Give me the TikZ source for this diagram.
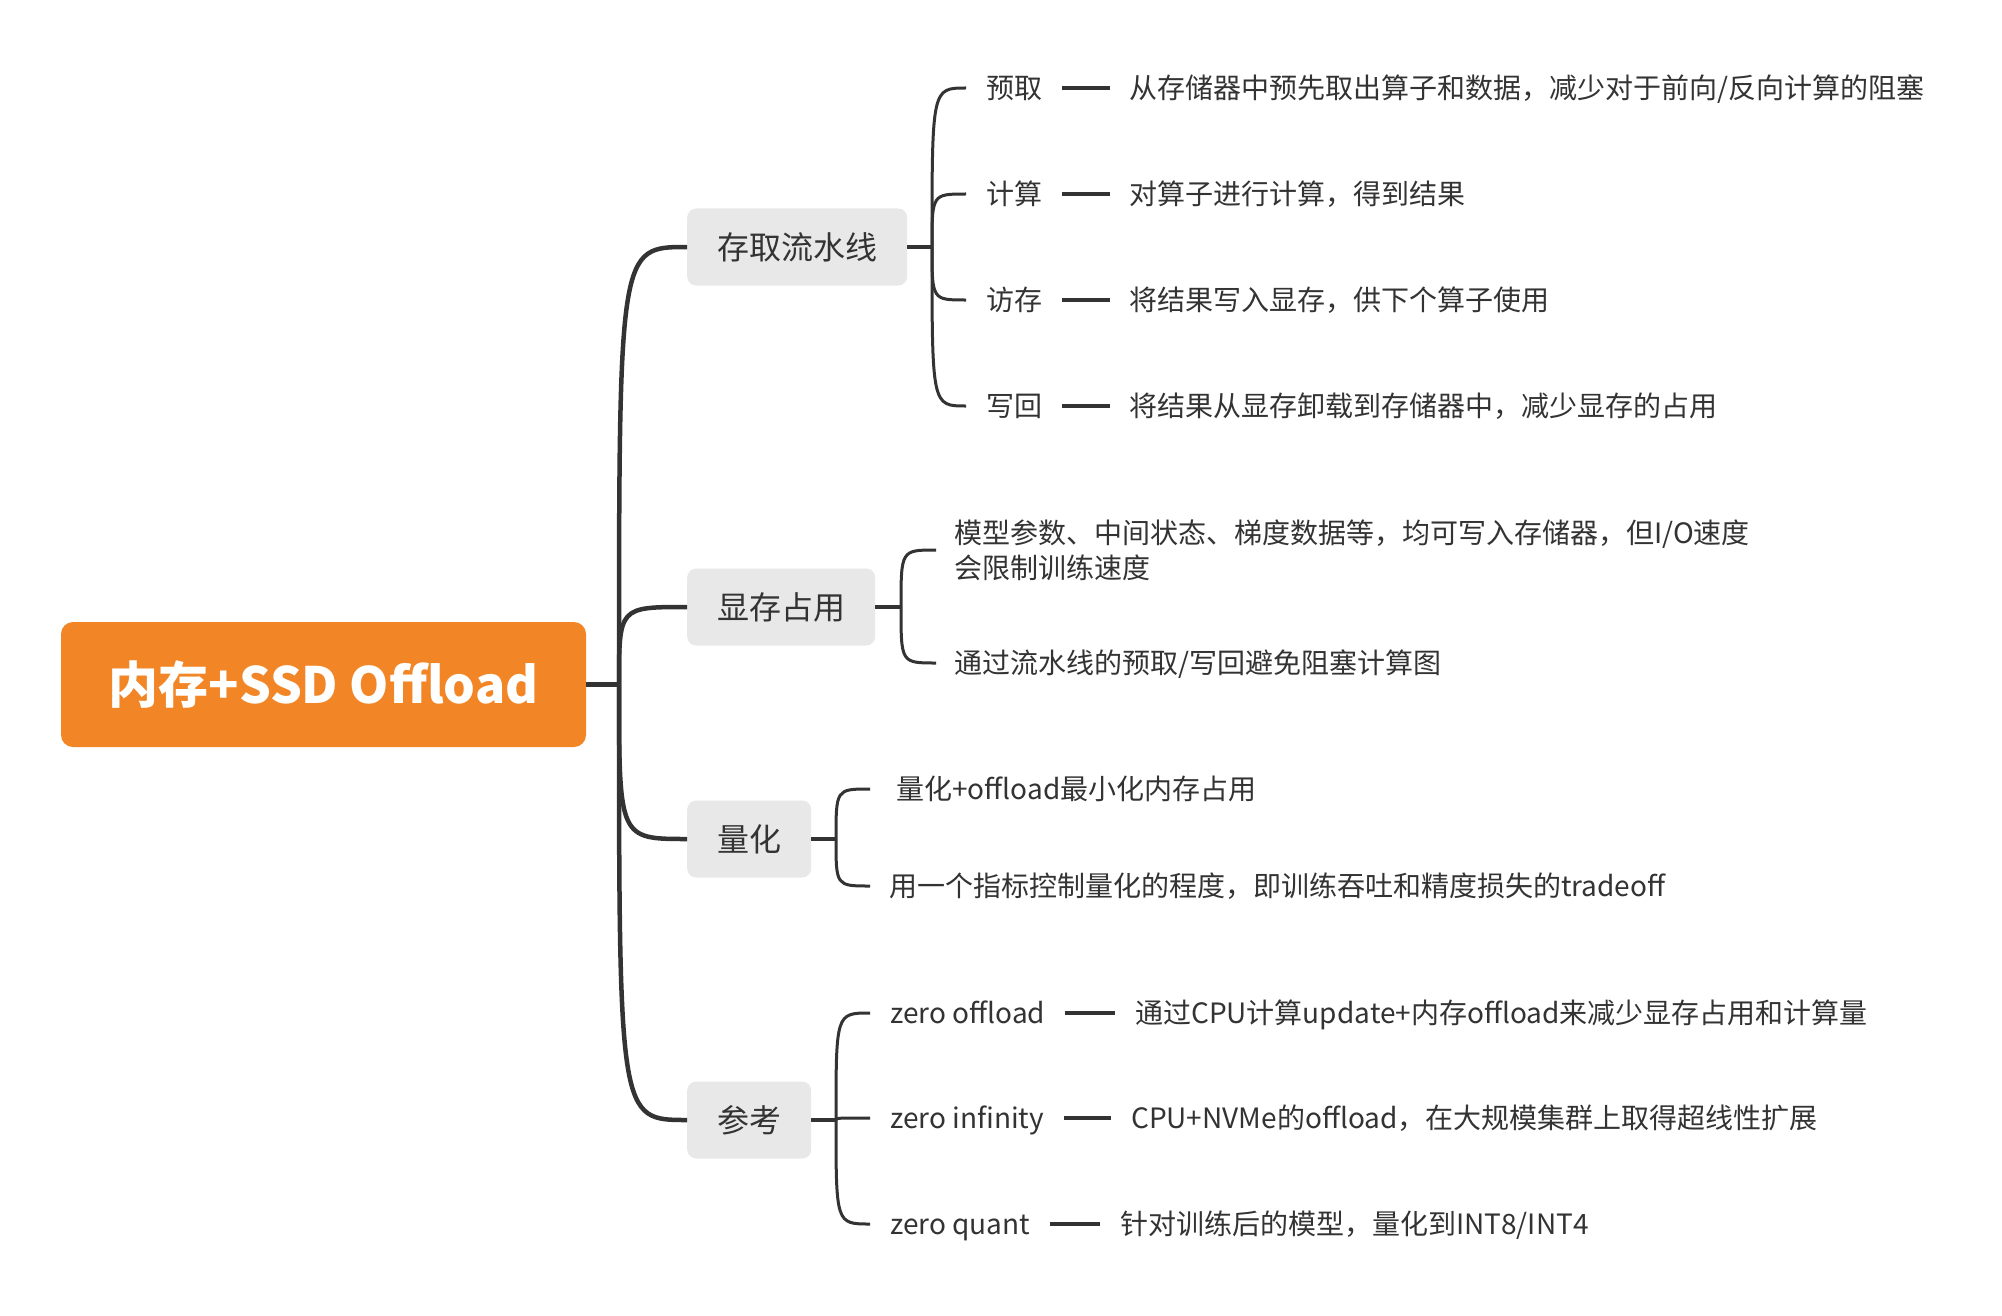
\documentclass[tikz,border=0pt]{standalone}
\usepackage{fontspec}
\setmainfont{Noto Sans CJK SC}
\usetikzlibrary{positioning}
\definecolor{ink}{HTML}{333333}
\definecolor{rootc}{HTML}{F28627}
\definecolor{boxc}{HTML}{E8E8E8}
\begin{document}
\begin{tikzpicture}[x=1pt,y=-1pt,
  rootbox/.style={fill=rootc, rounded corners=12pt, text=white, font=\fontsize{50}{58}\selectfont\bfseries, minimum width=525pt, minimum height=125pt, inner sep=0pt},
  branch/.style={fill=boxc, rounded corners=9pt, text=ink, font=\fontsize{32}{38}\selectfont, inner xsep=30pt, inner ysep=0pt, minimum height=77pt, anchor=west},
  leaf/.style={text=ink, font=\fontsize{28}{35}\selectfont, inner ysep=0pt, text height=24.6pt, text depth=3.4pt, anchor=west},
  multileaf/.style={text=ink, font=\fontsize{28}{35}\selectfont, inner ysep=0pt, align=left, anchor=west},
  link/.style={draw=ink, line width=4.5pt},
  twig/.style={draw=ink, line width=3pt},
  dashline/.style={draw=ink, line width=4.5pt}
]
\useasboundingbox (0,0) rectangle (2002,1316);
\fill[white] (0,0) rectangle (2002,1316);

% root
\node[rootbox] (root) at (323.5,684.5) {内存+SSD Offload};
\coordinate (j0) at (619,684.5);
\draw[link] (root.east) -- (j0);

% branches
\node[branch] (b1) at (687,247) {存取流水线};
\node[branch] (b2) at (687,607) {显存占用};
\node[branch] (b3) at (687,839) {量化};
\node[branch] (b4) at (687,1120) {参考};
\foreach \b in {b1,b2,b3,b4}
  \draw[link] (j0) .. controls (j0 |- \b.west) .. (\b.west);

% branch 1
\coordinate (j1) at (932,247);
\draw[link] (b1.east) -- (j1);
\node[leaf, inner xsep=20pt] (c11) at (966,88) {预取};
\node[leaf, inner xsep=20pt] (c12) at (966,194) {计算};
\node[leaf, inner xsep=20pt] (c13) at (966,300) {访存};
\node[leaf, inner xsep=20pt] (c14) at (966,406) {写回};
\node[leaf, inner xsep=19pt] (d11) at (1110,88) {从存储器中预先取出算子和数据，减少对于前向/反向计算的阻塞};
\node[leaf, inner xsep=19pt] (d12) at (1110,194) {对算子进行计算，得到结果};
\node[leaf, inner xsep=19pt] (d13) at (1110,300) {将结果写入显存，供下个算子使用};
\node[leaf, inner xsep=19pt] (d14) at (1110,406) {将结果从显存卸载到存储器中，减少显存的占用};
\foreach \i in {1,2,3,4} {
  \draw[twig] (j1) .. controls (j1 |- c1\i.west) .. (c1\i.west);
  \draw[dashline] (c1\i.east) -- (d1\i.west);
}

% branch 2
\coordinate (j2) at (901,607);
\draw[link] (b2.east) -- (j2);
\node[multileaf, inner xsep=18pt] (c21) at (936,550) {模型参数、中间状态、梯度数据等，均可写入存储器，但I/O速度\\会限制训练速度};
\node[leaf, inner xsep=18pt] (c22) at (936,663) {通过流水线的预取/写回避免阻塞计算图};
\foreach \i in {1,2}
  \draw[twig] (j2) .. controls (j2 |- c2\i.west) .. (c2\i.west);

% branch 3
\coordinate (j3) at (836,839);
\draw[link] (b3.east) -- (j3);
\node[leaf, inner xsep=26pt] (c31) at (870,789) {量化+offload最小化内存占用};
\node[leaf, inner xsep=19pt] (c32) at (870,886) {用一个指标控制量化的程度，即训练吞吐和精度损失的tradeoff};
\foreach \i in {1,2}
  \draw[twig] (j3) .. controls (j3 |- c3\i.west) .. (c3\i.west);

% branch 4
\coordinate (j4) at (836,1120);
\draw[link] (b4.east) -- (j4);
\node[leaf, inner xsep=20pt] (c41) at (870,1013) {zero offload};
\node[leaf, inner xsep=20pt] (c42) at (870,1118) {zero infinity};
\node[leaf, inner xsep=20pt] (c43) at (870,1224) {zero quant};
\node[leaf, inner xsep=20pt] (d41) at (1115,1013) {通过CPU计算update+内存offload来减少显存占用和计算量};
\node[leaf, inner xsep=20pt] (d42) at (1111,1118) {CPU+NVMe的offload，在大规模集群上取得超线性扩展};
\node[leaf, inner xsep=20pt] (d43) at (1100,1224) {针对训练后的模型，量化到INT8/INT4};
\foreach \i in {1,2,3} {
  \draw[twig] (j4) .. controls (j4 |- c4\i.west) .. (c4\i.west);
  \draw[dashline] (c4\i.east) -- (d4\i.west);
}
\end{tikzpicture}
\end{document}
